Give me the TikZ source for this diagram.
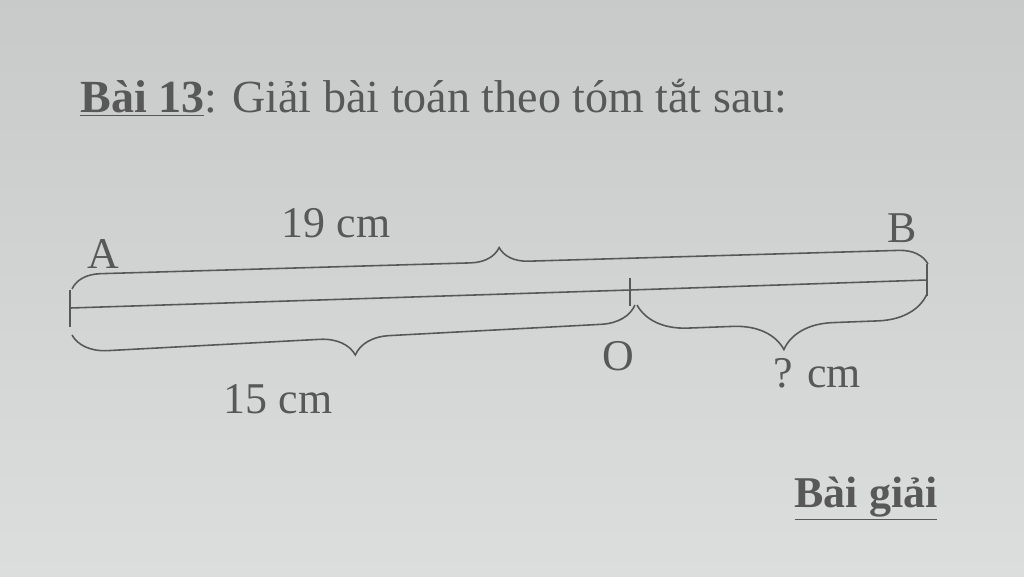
\documentclass[tikz,border=0pt]{standalone}
\usepackage{fontspec}
\setmainfont{Liberation Serif}
\usetikzlibrary{decorations.pathreplacing}
\definecolor{paper}{RGB}{220,222,221}
\definecolor{paperdark}{RGB}{200,202,201}
\definecolor{ink}{RGB}{88,88,88}
\tikzstyle{txt} = [text=ink, inner sep=0pt, anchor=base,
    font=\fontsize{25}{30}\selectfont]
\tikzstyle{seg} = [draw=ink, line width=0.9pt]
\tikzstyle{uppbrace} = [seg, decorate,
    decoration={brace, amplitude=0.58cm}]
\tikzstyle{lowbrace} = [seg, decorate,
    decoration={brace, mirror, amplitude=0.7cm}]
\begin{document}
\begin{tikzpicture}[x=0.02cm, y=-0.02cm]
        \shade [top color=paperdark, bottom color=paper] (0,0) rectangle (1024,576);
        \useasboundingbox (0,0) rectangle (1024,576);

        \node [txt, anchor=base west, font=\fontsize{26.2}{31}\selectfont] (title) at (80,112) {\textbf{\underline{Bài 13}}: Giải bài toán theo tóm tắt sau:};

        % the segment AB and its points
        \coordinate (A) at (70,308);
        \coordinate (O) at (630,290);
        \coordinate (B) at (927,280);
        \coordinate (Atop) at (70,290); \coordinate (Abot) at (70,327);
        \coordinate (Otop) at (630,278); \coordinate (Obot) at (630,306);
        \coordinate (Btop) at (927,264); \coordinate (Bbot) at (927,296);

        \draw [seg] (A) -- (O) -- (B);
        \draw [seg] (Atop) -- (Abot); \draw [seg] (Otop) -- (Obot); \draw [seg] (Btop) -- (Bbot);

        \node [txt] (lA) at (103,268) {A};
        \node [txt] (lB) at (902,242) {B};
        \node [txt] (lO) at (618,370) {O};

        % braces
        \coordinate (ua) at (72,289); \coordinate (ub) at (928,264);
        \coordinate (la) at (72,335); \coordinate (lo) at (635,305);
        \coordinate (ro) at (637,305); \coordinate (rb) at (927,294);

        \draw [uppbrace] (ua) -- (ub);
        \draw [lowbrace] (la) -- (lo);
        \draw [lowbrace, decoration={amplitude=1cm}] (ro) -- (rb);

        \node [txt] (l19) at (336,237) {19 cm};
        \node [txt] (l15) at (278,413) {15 cm};
        \node [txt] (lq) at (817,387) {? cm};

        \node [txt, font=\bfseries\fontsize{25}{30}\selectfont] (sol) at (866,507) {\underline{Bài giải}};
    \end{tikzpicture}
\end{document}
